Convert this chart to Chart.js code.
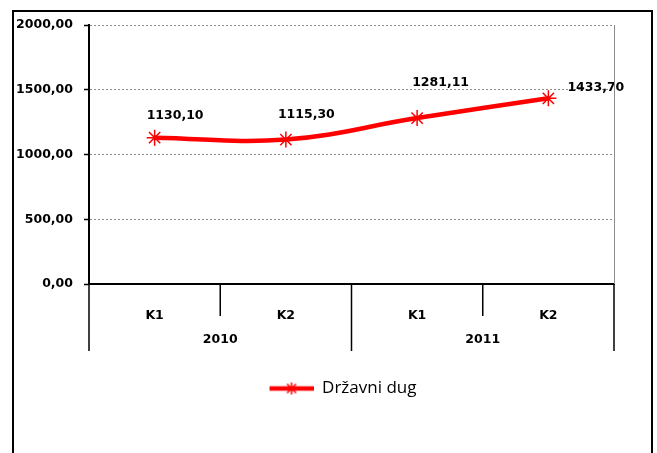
<!DOCTYPE html>
<html>
<head>
<meta charset="utf-8">
<script src="https://cdn.jsdelivr.net/npm/chart.js"></script>
<style>
  html, body { margin: 0; padding: 0; background: #fff; }
  #wrap { width: 657px; height: 453px; }
</style>
</head>
<body>
<div id="wrap"><canvas id="chart" width="657" height="453"></canvas></div>
<script>
// data
const quarters = ["K1", "K2", "K1", "K2"];
const years = ["2010", "2011"];
const quartersPerYear = [2, 2];
const drzavniDug = [1130.10, 1115.30, 1281.11, 1433.70];
const yTicks = [0, 500, 1000, 1500, 2000];

// label offsets from each point (Excel put them by hand)
const labelDx = [-8, -8, -5, 19];
const labelDy = [-22, -25, -35, -11];

const RED = "#FF0000";
const FAMILY = "'DejaVu Sans', Verdana, sans-serif";
const BOLD = "bold 12.5px " + FAMILY;
const SAMPLE_W = 102; // legend box is wider than the sample so the entry sits right of centre

function fmt(v) {
  return Number(v).toFixed(2).replace(".", ",");
}

// legend sample: line with the star marker in the middle, drawn at the right end
function legendSample() {
  const c = document.createElement("canvas");
  c.width = SAMPLE_W; c.height = 16;
  const g = c.getContext("2d");
  const x0 = SAMPLE_W - 44;
  g.strokeStyle = RED;
  g.lineWidth = 4.5;
  g.beginPath(); g.moveTo(x0, 8); g.lineTo(x0 + 44, 8); g.stroke();
  g.lineWidth = 1.5;
  const cx = x0 + 22;
  g.beginPath();
  g.moveTo(cx - 6, 8); g.lineTo(cx + 6, 8);
  g.moveTo(cx, 2); g.lineTo(cx, 14);
  g.moveTo(cx - 4.5, 3.5); g.lineTo(cx + 4.5, 12.5);
  g.moveTo(cx + 4.5, 3.5); g.lineTo(cx - 4.5, 12.5);
  g.stroke();
  return c;
}

const framePlugin = {
  id: "frame",
  beforeDraw(chart) {
    const ctx = chart.ctx;
    ctx.save();
    ctx.fillStyle = "#fff";
    ctx.fillRect(0, 0, chart.width, chart.height);
    ctx.strokeStyle = "#000";
    ctx.lineWidth = 2;
    ctx.strokeRect(13, 11, 639, 470);
    ctx.restore();
  },
  afterDraw(chart) {
    const ctx = chart.ctx;
    const a = chart.chartArea;
    const x = chart.scales.x;
    const step = (a.right - a.left) / quarters.length;
    ctx.save();
    // plot area right edge
    ctx.strokeStyle = "#8c8c8c";
    ctx.lineWidth = 1;
    ctx.beginPath();
    ctx.moveTo(a.right + 0.5, a.top);
    ctx.lineTo(a.right + 0.5, a.bottom);
    ctx.stroke();
    // category separators, long ones between years
    ctx.strokeStyle = "#000";
    ctx.lineWidth = 1.5;
    const yearEdges = [0];
    quartersPerYear.forEach(n => yearEdges.push(yearEdges[yearEdges.length - 1] + n));
    for (let i = 0; i <= quarters.length; i++) {
      const px = x.left + i * step;
      const long = yearEdges.includes(i);
      ctx.beginPath();
      ctx.moveTo(px, a.bottom);
      ctx.lineTo(px, a.bottom + (long ? 67 : 32));
      ctx.stroke();
    }
    // year labels
    ctx.fillStyle = "#000";
    ctx.font = BOLD;
    ctx.textAlign = "center";
    ctx.textBaseline = "middle";
    years.forEach((yr, j) => {
      const cx = x.left + (yearEdges[j] + yearEdges[j + 1]) / 2 * step;
      ctx.fillText(yr, cx, a.bottom + 56);
    });
    ctx.restore();
  },
  afterDatasetsDraw(chart) {
    const ctx = chart.ctx;
    const meta = chart.getDatasetMeta(0);
    ctx.save();
    ctx.fillStyle = "#000";
    ctx.font = BOLD;
    ctx.textAlign = "left";
    ctx.textBaseline = "middle";
    meta.data.forEach((pt, i) => {
      ctx.fillText(fmt(drzavniDug[i]), pt.x + labelDx[i], pt.y + labelDy[i]);
    });
    ctx.restore();
  }
};

new Chart(document.getElementById("chart"), {
  type: "line",
  data: {
    labels: quarters,
    datasets: [{
      label: "Državni dug",
      data: drzavniDug,
      borderColor: RED,
      backgroundColor: RED,
      borderWidth: 4.5,
      tension: 0.4,
      pointStyle: "star",
      pointRadius: 8,
      pointBorderWidth: 1.5,
      pointBorderColor: RED,
      pointBackgroundColor: RED
    }]
  },
  options: {
    responsive: false,
    animation: false,
    devicePixelRatio: 1,
    layout: { padding: { left: 14, right: 43, top: 25, bottom: 46 } },
    plugins: {
      tooltip: { enabled: false },
      legend: {
        position: "bottom",
        labels: {
          color: "#000",
          font: { family: "'Open Sans', sans-serif", size: 17 },
          padding: 10,
          usePointStyle: true,
          pointStyleWidth: SAMPLE_W,
          generateLabels(chart) {
            return [{
              text: chart.data.datasets[0].label,
              pointStyle: legendSample(),
              fillStyle: RED,
              strokeStyle: RED,
              lineWidth: 0,
              fontColor: "#000",
              datasetIndex: 0,
              hidden: false
            }];
          }
        }
      }
    },
    scales: {
      x: {
        type: "category",
        offset: true,
        grid: { display: false },
        border: { display: true, color: "#000", width: 2 },
        ticks: {
          color: "#000",
          font: { family: FAMILY, size: 12.5, weight: "bold" },
          padding: 16,
          maxRotation: 0
        },
        afterFit(s) { s.height = 86; }
      },
      y: {
        min: yTicks[0],
        max: yTicks[yTicks.length - 1],
        grid: {
          color: "#8c8c8c",
          lineWidth: 1,
          drawTicks: true,
          tickLength: 5,
          tickColor: "#000",
          tickWidth: 1.5
        },
        border: { display: true, color: "#000", width: 2, dash: [2, 2] },
        ticks: {
          stepSize: yTicks[1] - yTicks[0],
          autoSkip: false,
          color: "#000",
          font: { family: FAMILY, size: 12.5, weight: "bold" },
          padding: 11,
          callback: v => fmt(v)
        },
        afterFit(s) { s.width = 75; }
      }
    }
  },
  plugins: [framePlugin]
});
</script>
</body>
</html>
